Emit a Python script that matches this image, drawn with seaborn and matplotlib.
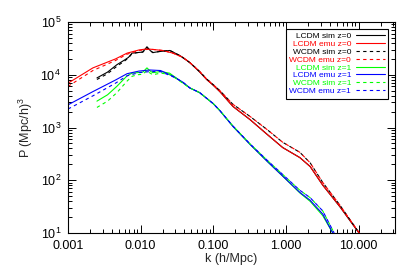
import numpy as np
import pandas as pd
import matplotlib
matplotlib.use('Agg')
import matplotlib.pyplot as plt
import matplotlib.ticker as mticker
import seaborn as sns

sns.set_theme(style='ticks')
plt.rcParams.update({
    'font.family': ['Liberation Sans', 'DejaVu Sans'],
    'mathtext.default': 'regular',
    'axes.linewidth': 0.8,
    'axes.edgecolor': 'black',
})

# ---- data (k in h/Mpc, P in (Mpc/h)^3) ----
k_emu0 = [0.001, 0.0022, 0.0045, 0.0065, 0.0095, 0.0122, 0.0147, 0.020, 0.0278,
          0.038, 0.0475, 0.065, 0.081, 0.10, 0.123, 0.186, 0.32, 0.55, 0.9,
          1.55, 2.15, 3.2, 5.5, 10.2]
p_lcdm_emu0 = [6920, 13490, 19950, 25700, 29510, 30900, 30200, 28840, 25700,
               21380, 16980, 11480, 8130, 6310, 4790, 2510, 1410, 741, 417,
               269, 182, 81, 32, 10]
p_wcdm_emu0 = [6030, 12020, 18620, 24550, 28840, 30200, 30200, 28840, 25700,
               21380, 16980, 11480, 8320, 6460, 5010, 2750, 1620, 912, 525,
               339, 214, 91, 34, 10]

k_sim0 = [0.0025, 0.0035, 0.0047, 0.006, 0.0068, 0.0076, 0.009, 0.0107, 0.0122,
          0.0135, 0.0147, 0.018, 0.0252, 0.035, 0.0475, 0.065, 0.081, 0.10,
          0.123, 0.186, 0.32, 0.55, 0.9, 1.55, 2.15, 3.2, 5.5, 10.2]
p_lcdm_sim0 = [8710, 11220, 15490, 19050, 21380, 25700, 26300, 26920, 33880,
               28840, 26300, 27540, 28840, 22910, 16980, 11220, 8130, 6310,
               4790, 2510, 1410, 741, 417, 269, 182, 81, 31.6, 9.8]
p_wcdm_sim0 = [8130, 10470, 14450, 18200, 20890, 25120, 26300, 26920, 33110,
               28840, 26300, 27540, 28840, 22910, 16980, 11480, 8320, 6460,
               5010, 2750, 1620, 912, 525, 339, 214, 91, 34, 10]

k_lcdm_emu1 = [0.001, 0.0022, 0.0045, 0.0065, 0.0095, 0.0134, 0.0188, 0.028,
               0.038, 0.0475, 0.065, 0.10, 0.123, 0.186, 0.32, 0.55, 0.9,
               1.55, 2.15, 3.2, 4.4]
p_lcdm_emu1 = [2690, 4790, 7940, 10470, 11750, 12300, 12020, 9330, 7240, 5620,
               4570, 2820, 2090, 1050, 479, 229, 120, 58.9, 41.7, 22.9, 10]
k_wcdm_emu1 = [0.001, 0.0022, 0.0045, 0.0065, 0.0095, 0.0134, 0.0188, 0.028,
               0.038, 0.0475, 0.065, 0.10, 0.123, 0.186, 0.32, 0.55, 0.9,
               1.55, 2.15, 3.2, 4.6]
p_wcdm_emu1 = [2240, 3980, 6920, 9550, 10960, 11480, 11480, 9120, 7240, 5620,
               4570, 2820, 2090, 1070, 490, 240, 129, 64.6, 46.8, 26.3, 10]

k_lcdm_sim1 = [0.0025, 0.0035, 0.0047, 0.0065, 0.0076, 0.009, 0.0107, 0.0122,
               0.0135, 0.0147, 0.0188, 0.025, 0.0475, 0.065, 0.10, 0.123,
               0.186, 0.32, 0.55, 0.9, 1.55, 2.15, 3.2, 4.4]
p_lcdm_sim1 = [3160, 4170, 6030, 9550, 10720, 10960, 11220, 13490, 11750,
               10960, 11480, 10720, 5620, 4570, 2820, 2090, 1050, 479, 229,
               120, 57.5, 39.8, 21.4, 10]
k_wcdm_sim1 = [0.0025, 0.0035, 0.0047, 0.0065, 0.0076, 0.009, 0.0107, 0.0122,
               0.0135, 0.0147, 0.0188, 0.025, 0.0475, 0.065, 0.10, 0.123,
               0.186, 0.32, 0.55, 0.9, 1.55, 2.15, 3.2, 4.6]
p_wcdm_sim1 = [2400, 3160, 4570, 7590, 9330, 10000, 10230, 12020, 10720,
               10000, 10720, 10230, 5620, 4570, 2820, 2090, 1070, 490, 240,
               129, 64.6, 46.8, 26.3, 10]

labels = ['LCDM sim z=0', 'LCDM emu z=0', 'WCDM sim z=0', 'WCDM emu z=0',
          'LCDM sim z=1', 'LCDM emu z=1', 'WCDM sim z=1', 'WCDM emu z=1']
series = [(k_sim0, p_lcdm_sim0), (k_emu0, p_lcdm_emu0),
          (k_sim0, p_wcdm_sim0), (k_emu0, p_wcdm_emu0),
          (k_lcdm_sim1, p_lcdm_sim1), (k_lcdm_emu1, p_lcdm_emu1),
          (k_wcdm_sim1, p_wcdm_sim1), (k_wcdm_emu1, p_wcdm_emu1)]
colors = ['black', '#FF0000', 'black', '#FF0000',
          '#00FF00', '#0000FF', '#00FF00', '#0000FF']
dashed = [False, False, True, True, False, False, True, True]

fig = plt.figure(figsize=(4.15, 2.77), dpi=100)
ax = fig.add_axes([0.1639, 0.1588, 0.7879, 0.7618])

for lab, (k, p), c, d in zip(labels, series, colors, dashed):
    df = pd.DataFrame({'k': k, 'P': p})
    sns.lineplot(data=df, x='k', y='P', ax=ax, color=c, lw=0.8,
                 linestyle=(0, (3, 3)) if d else '-', label=lab,
                 estimator=None, sort=True)

ax.set_xscale('log')
ax.set_yscale('log')
ax.set_xlim(0.001, 10 ** 1.5)
ax.set_ylim(10, 1e5)

ax.xaxis.set_major_locator(mticker.FixedLocator([0.001, 0.01, 0.1, 1, 10]))
ax.xaxis.set_major_formatter(mticker.FixedFormatter(
    ['0.001', '0.010', '0.100', '1.000', '10.000']))
ax.xaxis.set_minor_locator(mticker.LogLocator(base=10, subs=np.arange(2, 10)))
ax.xaxis.set_minor_formatter(mticker.NullFormatter())
ax.yaxis.set_major_locator(mticker.LogLocator(base=10))
ax.yaxis.set_major_formatter(mticker.LogFormatterMathtext())
ax.yaxis.set_minor_locator(mticker.LogLocator(base=10, subs=np.arange(2, 10)))
ax.yaxis.set_minor_formatter(mticker.NullFormatter())

ax.tick_params(which='both', direction='in', top=True, right=True,
               colors='black', labelsize=9, width=0.7)
ax.tick_params(which='major', length=6, pad=5)
ax.tick_params(which='minor', length=3)

ax.set_xlabel('k (h/Mpc)', fontsize=9, labelpad=1)
ax.set_ylabel('P (Mpc/h)$^3$', fontsize=9, labelpad=4)

leg = ax.legend(loc='upper right', markerfirst=False, labelcolor='linecolor',
                fancybox=False, edgecolor='black', framealpha=1, fontsize=6,
                labelspacing=0.0, handlelength=3.4, handletextpad=0.6,
                borderpad=0.45, borderaxespad=0.8)
leg.get_frame().set_linewidth(0.8)

fig.savefig('out.png', dpi=100)
